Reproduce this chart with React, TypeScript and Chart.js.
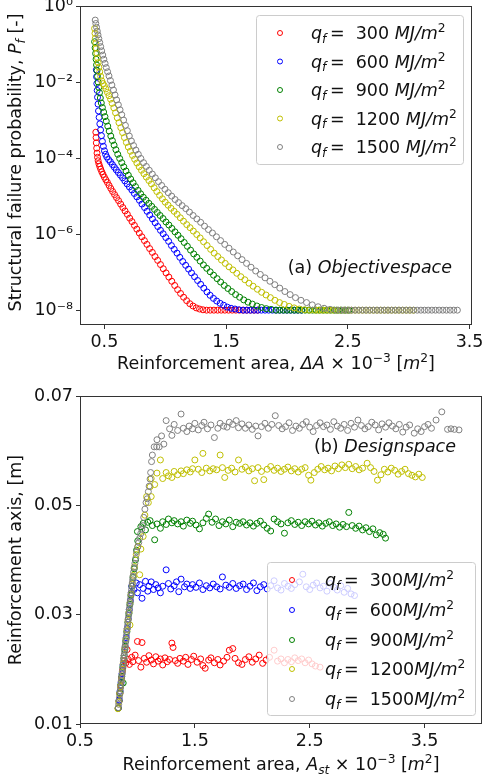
import React, { useEffect, useRef } from "react";
import { Chart, registerables } from "chart.js";

Chart.register(...registerables);

const FONT = '"DejaVu Sans", sans-serif';
const TEXT = "#111111";

// ---------- shared series ----------
const heatLoads = [300, 600, 900, 1200, 1500];
const seriesColors = ["#ff0000", "#0000ff", "#008000", "#bfbf00", "#808080"];

// ---------- (a) Objective space ----------
const topXTicks = [0.5, 1.5, 2.5, 3.5];
const topXTickLabels = ["0.5", "1.5", "2.5", "3.5"];
const topYTicks = [1e-8, 1e-6, 1e-4, 1e-2, 1];
const topYTickLabels = ["10\u207B\u2078", "10\u207B\u2076", "10\u207B\u2074", "10\u207B\u00B2", "10\u2070"];
const PF_FLOOR = 1e-8;

// Pareto fronts: [ΔA ×10^-3 m², log10(Pf)]
const front300 = [[0.430,-3.32],[0.432,-3.46],[0.434,-3.60],[0.437,-3.74],[0.440,-3.87],[0.444,-3.98],[0.449,-4.07],[0.455,-4.15],[0.462,-4.22],[0.470,-4.29],[0.479,-4.36],[0.489,-4.43],[0.500,-4.50],[0.512,-4.57],[0.525,-4.64],[0.539,-4.72],[0.553,-4.80],[0.568,-4.88],[0.584,-4.96],[0.600,-5.04],[0.617,-5.12],[0.634,-5.21],[0.652,-5.30],[0.670,-5.39],[0.689,-5.48],[0.708,-5.58],[0.727,-5.67],[0.747,-5.77],[0.767,-5.87],[0.787,-5.97],[0.808,-6.07],[0.829,-6.17],[0.850,-6.27],[0.872,-6.38],[0.894,-6.48],[0.916,-6.59],[0.938,-6.69],[0.961,-6.80],[0.984,-6.91],[1.007,-7.02],[1.030,-7.13],[1.054,-7.24],[1.078,-7.35],[1.102,-7.46],[1.126,-7.56],[1.151,-7.66],[1.176,-7.75],[1.202,-7.83],[1.228,-7.89],[1.255,-7.94],[1.282,-7.97],[1.310,-7.99]];
const front600 = [[0.434,-1.68],[0.436,-1.86],[0.438,-2.04],[0.441,-2.22],[0.444,-2.40],[0.448,-2.58],[0.452,-2.76],[0.457,-2.93],[0.463,-3.10],[0.469,-3.26],[0.476,-3.41],[0.484,-3.56],[0.492,-3.69],[0.501,-3.81],[0.510,-3.90],[0.520,-3.97],[0.535,-4.04],[0.550,-4.10],[0.566,-4.17],[0.582,-4.24],[0.598,-4.31],[0.615,-4.38],[0.632,-4.45],[0.650,-4.52],[0.668,-4.60],[0.687,-4.68],[0.706,-4.76],[0.726,-4.84],[0.746,-4.93],[0.767,-5.02],[0.788,-5.11],[0.809,-5.21],[0.830,-5.30],[0.851,-5.40],[0.873,-5.50],[0.895,-5.60],[0.917,-5.70],[0.939,-5.80],[0.961,-5.90],[0.983,-5.99],[1.005,-6.09],[1.028,-6.19],[1.051,-6.30],[1.074,-6.40],[1.097,-6.50],[1.120,-6.61],[1.144,-6.72],[1.168,-6.82],[1.192,-6.92],[1.216,-7.02],[1.241,-7.12],[1.266,-7.22],[1.291,-7.32],[1.317,-7.42],[1.343,-7.52],[1.369,-7.61],[1.396,-7.69],[1.423,-7.76],[1.451,-7.82],[1.480,-7.87],[1.510,-7.92],[1.541,-7.95],[1.573,-7.97],[1.606,-7.99],[1.640,-8.00]];
const front900 = [[0.420,-0.94],[0.424,-1.10],[0.428,-1.25],[0.432,-1.40],[0.436,-1.55],[0.440,-1.70],[0.444,-1.85],[0.449,-2.00],[0.454,-2.14],[0.460,-2.28],[0.467,-2.42],[0.475,-2.55],[0.484,-2.67],[0.494,-2.79],[0.505,-2.91],[0.516,-3.03],[0.528,-3.16],[0.540,-3.29],[0.553,-3.42],[0.566,-3.54],[0.580,-3.66],[0.595,-3.78],[0.610,-3.90],[0.626,-4.01],[0.643,-4.12],[0.660,-4.23],[0.678,-4.34],[0.697,-4.45],[0.716,-4.55],[0.736,-4.65],[0.756,-4.75],[0.777,-4.85],[0.798,-4.94],[0.820,-5.03],[0.843,-5.11],[0.866,-5.19],[0.889,-5.27],[0.912,-5.35],[0.935,-5.43],[0.958,-5.51],[0.982,-5.59],[1.006,-5.68],[1.030,-5.76],[1.055,-5.85],[1.080,-5.94],[1.105,-6.03],[1.130,-6.12],[1.156,-6.22],[1.182,-6.32],[1.208,-6.42],[1.234,-6.52],[1.260,-6.61],[1.287,-6.71],[1.314,-6.81],[1.341,-6.90],[1.369,-6.99],[1.397,-7.08],[1.426,-7.17],[1.455,-7.26],[1.485,-7.35],[1.515,-7.43],[1.546,-7.51],[1.578,-7.59],[1.611,-7.66],[1.645,-7.73],[1.680,-7.79],[1.716,-7.84],[1.753,-7.89],[1.791,-7.93],[1.830,-7.96],[1.870,-7.98],[1.910,-8.00]];
const front1200 = [[0.420,-0.59],[0.423,-0.72],[0.426,-0.85],[0.430,-0.98],[0.434,-1.11],[0.439,-1.24],[0.444,-1.37],[0.449,-1.49],[0.455,-1.61],[0.462,-1.73],[0.470,-1.85],[0.479,-1.97],[0.489,-2.04],[0.500,-2.10],[0.512,-2.18],[0.525,-2.27],[0.538,-2.36],[0.551,-2.45],[0.564,-2.56],[0.578,-2.68],[0.592,-2.81],[0.606,-2.94],[0.620,-3.07],[0.635,-3.20],[0.650,-3.33],[0.665,-3.46],[0.681,-3.59],[0.697,-3.71],[0.714,-3.82],[0.731,-3.93],[0.749,-4.03],[0.767,-4.13],[0.786,-4.23],[0.805,-4.32],[0.825,-4.41],[0.845,-4.50],[0.866,-4.59],[0.887,-4.68],[0.909,-4.78],[0.931,-4.88],[0.954,-4.98],[0.977,-5.07],[1.000,-5.16],[1.024,-5.24],[1.048,-5.32],[1.073,-5.40],[1.098,-5.48],[1.124,-5.57],[1.150,-5.66],[1.177,-5.75],[1.204,-5.83],[1.231,-5.92],[1.259,-6.01],[1.287,-6.10],[1.315,-6.20],[1.344,-6.30],[1.373,-6.40],[1.402,-6.50],[1.432,-6.59],[1.462,-6.68],[1.493,-6.77],[1.524,-6.86],[1.556,-6.94],[1.588,-7.03],[1.621,-7.12],[1.654,-7.20],[1.688,-7.29],[1.722,-7.37],[1.757,-7.45],[1.792,-7.53],[1.828,-7.60],[1.864,-7.67],[1.901,-7.74],[1.939,-7.80],[1.978,-7.85],[2.018,-7.90],[2.059,-7.94],[2.101,-7.97],[2.144,-7.99],[2.188,-8.00]];
const front1500 = [[0.425,-0.37],[0.430,-0.46],[0.436,-0.56],[0.442,-0.66],[0.448,-0.76],[0.455,-0.86],[0.462,-0.96],[0.470,-1.07],[0.478,-1.18],[0.487,-1.29],[0.496,-1.40],[0.506,-1.51],[0.516,-1.62],[0.527,-1.73],[0.538,-1.84],[0.550,-1.96],[0.562,-2.08],[0.575,-2.21],[0.588,-2.34],[0.601,-2.47],[0.615,-2.60],[0.629,-2.73],[0.643,-2.86],[0.658,-3.00],[0.673,-3.14],[0.689,-3.28],[0.705,-3.42],[0.722,-3.55],[0.740,-3.67],[0.759,-3.79],[0.779,-3.90],[0.800,-4.01],[0.822,-4.12],[0.845,-4.22],[0.869,-4.32],[0.894,-4.42],[0.919,-4.52],[0.945,-4.62],[0.971,-4.72],[0.998,-4.82],[1.025,-4.91],[1.053,-5.00],[1.081,-5.09],[1.110,-5.17],[1.139,-5.25],[1.169,-5.33],[1.199,-5.42],[1.229,-5.51],[1.260,-5.60],[1.291,-5.69],[1.323,-5.79],[1.355,-5.88],[1.388,-5.97],[1.421,-6.07],[1.455,-6.17],[1.489,-6.27],[1.524,-6.37],[1.559,-6.47],[1.595,-6.57],[1.631,-6.67],[1.668,-6.77],[1.705,-6.87],[1.743,-6.97],[1.781,-7.06],[1.820,-7.15],[1.860,-7.24],[1.900,-7.33],[1.941,-7.42],[1.983,-7.51],[2.026,-7.59],[2.070,-7.67],[2.115,-7.74],[2.161,-7.80],[2.208,-7.86],[2.256,-7.91],[2.305,-7.95],[2.355,-7.98],[2.406,-8.00]];

// ΔA values of the solutions that sit on the Pf = 1e-8 floor
const plateau300 = [1.34,1.37,1.40,1.43,1.46,1.49,1.52,1.55,1.58,1.61,1.64,1.67,1.70,1.73,1.76];
const plateau600 = [1.67,1.70,1.73,1.76,1.79,1.82,1.85,1.88,1.91,1.94,1.97,2.00,2.03,2.06,2.09,2.12];
const plateau900 = [1.94,1.97,2.00,2.03,2.06,2.09,2.12,2.15,2.18,2.21,2.24,2.27,2.30,2.33,2.36,2.39,2.42,2.45,2.48,2.51];
const plateau1200 = [2.23,2.26,2.29,2.32,2.35,2.38,2.41,2.44,2.47,2.50,2.53,2.56,2.59,2.62,2.65,2.68,2.71,2.74,2.77,2.80,2.83,2.86,2.89,2.92,2.95,2.98,3.01,3.04];
const plateau1500 = [2.44,2.47,2.50,2.53,2.56,2.59,2.62,2.65,2.68,2.71,2.74,2.77,2.80,2.83,2.86,2.89,2.92,2.95,2.98,3.01,3.04,3.07,3.10,3.13,3.16,3.19,3.22,3.25,3.28,3.31,3.34,3.37,3.40];

const topFronts = [front300, front600, front900, front1200, front1500];
const topPlateaus = [plateau300, plateau600, plateau900, plateau1200, plateau1500];

// ---------- (b) Design space ----------
const botXTicks = [0.5, 1.5, 2.5, 3.5];
const botXTickLabels = ["0.5", "1.5", "2.5", "3.5"];
const botYTicks = [0.01, 0.03, 0.05, 0.07];
const botYTickLabels = ["0.01", "0.03", "0.05", "0.07"];

// [A_st ×10^-3 m², reinforcement axis m]
const design300 = [[0.833,0.0129],[0.840,0.0142],[0.847,0.0156],[0.855,0.0170],[0.862,0.0184],[0.870,0.0198],[0.878,0.0210],[0.886,0.0216],
[0.90,0.0212],[0.91,0.0236],[0.92,0.0218],[0.93,0.0209],[0.95,0.0222],[0.96,0.0214],[0.98,0.0226],[1.00,0.0251],[1.01,0.0216],[1.03,0.0204],[1.04,0.0249],[1.06,0.0220],[1.08,0.0213],[1.10,0.0225],[1.12,0.0217],[1.14,0.0210],[1.16,0.0223],[1.18,0.0215],[1.20,0.0219],[1.22,0.0208],[1.24,0.0221],[1.26,0.0214],[1.28,0.0218],[1.30,0.0248],[1.31,0.0240],[1.33,0.0216],[1.35,0.0211],[1.37,0.0220],[1.40,0.0215],[1.42,0.0222],[1.44,0.0209],[1.47,0.0218],[1.49,0.0224],[1.52,0.0213],[1.55,0.0219],[1.57,0.0207],[1.59,0.0202],[1.62,0.0217],[1.64,0.0221],[1.67,0.0212],[1.70,0.0218],[1.72,0.0208],[1.75,0.0215],[1.78,0.0222],[1.80,0.0235],[1.83,0.0238],[1.85,0.0220],[1.88,0.0212],[1.91,0.0209],[1.94,0.0218],[1.97,0.0223],[2.00,0.0213],[2.03,0.0219],[2.06,0.0226],[2.09,0.0211],[2.12,0.0217],[2.15,0.0222],[2.19,0.0235],[2.22,0.0215],[2.25,0.0219],[2.28,0.0212],[2.31,0.0218],[2.34,0.0214],[2.37,0.0221],[2.40,0.0216],[2.43,0.0219],[2.46,0.0212],[2.49,0.0217],[2.52,0.0210],[2.55,0.0206],[2.59,0.0204]];
const design600 = [[0.833,0.0129],[0.841,0.0144],[0.849,0.0160],[0.858,0.0176],[0.866,0.0192],[0.875,0.0208],[0.884,0.0225],[0.893,0.0241],[0.902,0.0258],[0.911,0.0275],[0.920,0.0292],[0.929,0.0309],[0.938,0.0325],[0.946,0.0340],
[0.95,0.0352],[0.97,0.0346],[0.99,0.0358],[1.00,0.0340],[1.02,0.0355],[1.04,0.0330],[1.05,0.0348],[1.07,0.0361],[1.09,0.0343],[1.10,0.0352],[1.12,0.0360],[1.14,0.0346],[1.16,0.0355],[1.18,0.0349],[1.20,0.0340],[1.22,0.0352],[1.25,0.0382],[1.27,0.0357],[1.29,0.0347],[1.32,0.0353],[1.34,0.0360],[1.36,0.0342],[1.38,0.0365],[1.41,0.0351],[1.43,0.0356],[1.46,0.0348],[1.48,0.0355],[1.51,0.0350],[1.54,0.0358],[1.57,0.0346],[1.60,0.0353],[1.63,0.0349],[1.66,0.0356],[1.69,0.0351],[1.72,0.0347],[1.74,0.0369],[1.77,0.0354],[1.80,0.0350],[1.83,0.0357],[1.86,0.0348],[1.89,0.0353],[1.92,0.0356],[1.95,0.0346],[1.98,0.0352],[2.01,0.0358],[2.04,0.0344],[2.07,0.0351],[2.10,0.0355],[2.13,0.0347],[2.16,0.0353],[2.19,0.0362],[2.22,0.0349],[2.25,0.0345],[2.28,0.0357],[2.31,0.0352],[2.34,0.0348],[2.37,0.0355],[2.41,0.0360],[2.44,0.0374],[2.47,0.0351],[2.50,0.0346],[2.53,0.0354],[2.56,0.0358],[2.59,0.0349],[2.62,0.0352],[2.65,0.0343],[2.68,0.0357],[2.71,0.0350],[2.74,0.0345],[2.77,0.0353],[2.80,0.0341],[2.83,0.0348],[2.86,0.0338],[2.89,0.0335]];
const design900 = [[0.833,0.0129],[0.840,0.0142],[0.848,0.0157],[0.856,0.0172],[0.864,0.0187],[0.876,0.0175],[0.873,0.0204],[0.882,0.0220],[0.890,0.0236],[0.899,0.0252],[0.908,0.0269],[0.917,0.0286],[0.926,0.0302],[0.935,0.0319],[0.944,0.0336],[0.953,0.0352],[0.962,0.0368],[0.972,0.0384],[0.983,0.0400],[0.993,0.0418],[1.003,0.0435],
[1.00,0.0452],[1.03,0.0461],[1.05,0.0467],[1.07,0.0455],[1.09,0.0469],[1.11,0.0472],[1.13,0.0463],[1.15,0.0437],[1.17,0.0466],[1.20,0.0458],[1.22,0.0470],[1.25,0.0465],[1.27,0.0475],[1.30,0.0468],[1.32,0.0472],[1.35,0.0466],[1.38,0.0470],[1.40,0.0462],[1.43,0.0473],[1.46,0.0467],[1.48,0.0471],[1.51,0.0464],[1.54,0.0457],[1.57,0.0468],[1.60,0.0476],[1.62,0.0484],[1.65,0.0469],[1.68,0.0475],[1.71,0.0463],[1.74,0.0470],[1.77,0.0466],[1.80,0.0473],[1.83,0.0461],[1.86,0.0469],[1.89,0.0467],[1.92,0.0470],[1.95,0.0464],[1.98,0.0468],[2.01,0.0462],[2.04,0.0467],[2.07,0.0471],[2.10,0.0464],[2.13,0.0458],[2.16,0.0453],[2.19,0.0475],[2.22,0.0470],[2.25,0.0466],[2.28,0.0449],[2.31,0.0468],[2.34,0.0472],[2.37,0.0465],[2.40,0.0469],[2.43,0.0463],[2.46,0.0470],[2.49,0.0466],[2.52,0.0471],[2.55,0.0464],[2.58,0.0468],[2.61,0.0462],[2.64,0.0467],[2.67,0.0470],[2.70,0.0463],[2.73,0.0466],[2.76,0.0460],[2.79,0.0465],[2.82,0.0461],[2.84,0.0487],[2.87,0.0463],[2.90,0.0458],[2.93,0.0462],[2.96,0.0455],[2.99,0.0459],[3.02,0.0452],[3.05,0.0457],[3.08,0.0446],[3.11,0.0450],[3.14,0.0447],[3.16,0.0440]];
const design1200 = [[0.830,0.0128],[0.838,0.0140],[0.846,0.0155],[0.853,0.0168],[0.860,0.0180],[0.868,0.0195],[0.876,0.0210],[0.884,0.0225],[0.892,0.0240],[0.900,0.0255],[0.909,0.0272],[0.918,0.0290],[0.935,0.0281],[0.927,0.0305],[0.936,0.0322],[0.945,0.0338],[0.955,0.0356],[0.965,0.0372],[0.975,0.0388],[1.020,0.0373],[0.990,0.0410],[1.005,0.0425],[1.030,0.0420],[1.050,0.0443],[1.065,0.0482],[1.080,0.0516],[1.095,0.0505],[1.110,0.0534],[1.120,0.0516],
[1.12,0.0549],[1.15,0.0538],[1.17,0.0559],[1.20,0.0583],[1.22,0.0549],[1.25,0.0560],[1.27,0.0554],[1.30,0.0551],[1.32,0.0562],[1.35,0.0556],[1.38,0.0563],[1.40,0.0558],[1.43,0.0565],[1.46,0.0561],[1.48,0.0567],[1.50,0.0583],[1.53,0.0566],[1.56,0.0560],[1.57,0.0595],[1.60,0.0568],[1.63,0.0563],[1.66,0.0567],[1.69,0.0565],[1.72,0.0592],[1.74,0.0569],[1.76,0.0551],[1.79,0.0564],[1.82,0.0568],[1.85,0.0561],[1.88,0.0583],[1.91,0.0566],[1.94,0.0570],[1.97,0.0563],[2.00,0.0567],[2.02,0.0545],[2.05,0.0569],[2.08,0.0562],[2.10,0.0547],[2.13,0.0566],[2.16,0.0571],[2.19,0.0564],[2.22,0.0568],[2.25,0.0562],[2.28,0.0566],[2.31,0.0570],[2.34,0.0563],[2.37,0.0567],[2.40,0.0561],[2.43,0.0566],[2.46,0.0569],[2.49,0.0555],[2.51,0.0546],[2.54,0.0560],[2.57,0.0566],[2.60,0.0571],[2.63,0.0565],[2.66,0.0568],[2.69,0.0563],[2.72,0.0572],[2.75,0.0567],[2.78,0.0574],[2.81,0.0569],[2.84,0.0575],[2.87,0.0567],[2.90,0.0571],[2.93,0.0565],[2.96,0.0568],[3.00,0.0577],[3.03,0.0569],[3.06,0.0562],[3.09,0.0546],[3.12,0.0556],[3.15,0.0566],[3.18,0.0561],[3.21,0.0568],[3.24,0.0564],[3.27,0.0557],[3.30,0.0562],[3.33,0.0566],[3.36,0.0558],[3.39,0.0555],[3.42,0.0552],[3.45,0.0557],[3.48,0.0551]];
const design1500 = [[0.833,0.0130],[0.837,0.0136],[0.840,0.0142],[0.843,0.0148],[0.846,0.0154],[0.850,0.0160],[0.853,0.0166],[0.856,0.0172],[0.859,0.0178],[0.862,0.0184],[0.865,0.0190],[0.869,0.0196],[0.872,0.0202],[0.875,0.0208],[0.878,0.0214],[0.881,0.0220],[0.885,0.0226],[0.888,0.0232],[0.891,0.0238],[0.894,0.0244],[0.897,0.0250],[0.901,0.0256],[0.904,0.0262],[0.907,0.0268],[0.910,0.0274],[0.914,0.0280],[0.917,0.0286],[0.920,0.0292],[0.923,0.0298],[0.926,0.0304],[0.929,0.0310],[0.933,0.0316],[0.936,0.0322],[0.939,0.0328],[0.942,0.0334],[0.946,0.0340],[0.949,0.0346],[0.952,0.0352],[0.955,0.0358],[0.958,0.0364],[0.961,0.0370],[0.967,0.0378],[0.972,0.0386],[0.978,0.0394],[0.985,0.0403],[0.993,0.0415],[1.002,0.0424],[1.012,0.0432],[1.020,0.0440],[1.028,0.0448],[1.037,0.0456],[1.045,0.0463],[1.055,0.0478],[1.065,0.0493],[1.075,0.0505],[1.085,0.0512],[1.095,0.0525],[1.102,0.0535],[1.110,0.0548],[1.115,0.0560],[1.123,0.0580],[1.130,0.0592],[1.146,0.0607],[1.168,0.0607],[1.190,0.0607],
[1.17,0.0620],[1.21,0.0627],[1.23,0.0612],[1.25,0.0655],[1.28,0.0640],[1.30,0.0628],[1.32,0.0648],[1.35,0.0637],[1.38,0.0667],[1.40,0.0641],[1.43,0.0635],[1.45,0.0645],[1.48,0.0640],[1.50,0.0650],[1.53,0.0638],[1.56,0.0646],[1.58,0.0652],[1.61,0.0640],[1.64,0.0647],[1.67,0.0624],[1.70,0.0641],[1.72,0.0650],[1.75,0.0645],[1.78,0.0643],[1.80,0.0652],[1.83,0.0648],[1.86,0.0655],[1.88,0.0642],[1.91,0.0649],[1.94,0.0641],[1.97,0.0647],[2.00,0.0639],[2.03,0.0645],[2.05,0.0627],[2.08,0.0644],[2.11,0.0650],[2.14,0.0641],[2.17,0.0648],[2.20,0.0664],[2.23,0.0646],[2.26,0.0640],[2.29,0.0644],[2.32,0.0651],[2.35,0.0637],[2.38,0.0645],[2.41,0.0641],[2.44,0.0648],[2.47,0.0653],[2.50,0.0643],[2.53,0.0635],[2.56,0.0646],[2.59,0.0651],[2.62,0.0644],[2.65,0.0647],[2.68,0.0639],[2.71,0.0653],[2.74,0.0645],[2.77,0.0641],[2.80,0.0648],[2.83,0.0637],[2.86,0.0650],[2.89,0.0643],[2.92,0.0656],[2.95,0.0646],[2.98,0.0640],[3.01,0.0644],[3.04,0.0652],[3.07,0.0647],[3.10,0.0638],[3.13,0.0649],[3.16,0.0643],[3.19,0.0651],[3.22,0.0645],[3.25,0.0640],[3.28,0.0648],[3.31,0.0634],[3.34,0.0643],[3.37,0.0647],[3.41,0.0632],[3.44,0.0640],[3.47,0.0635],[3.50,0.0644],[3.53,0.0648],[3.56,0.0641],[3.60,0.0656],[3.65,0.0671],[3.70,0.0639],[3.73,0.0640],[3.76,0.0639],[3.80,0.0638]];

const designSets = [design300, design600, design900, design1200, design1500];

// ---------- text ----------
type Seg = { t: string; it?: boolean; sub?: boolean; sup?: boolean };
const topXTitle: Seg[] = [{ t: "Reinforcement area, " }, { t: "\u0394A", it: true }, { t: " \u00D7 10" }, { t: "\u22123", sup: true }, { t: " [" }, { t: "m", it: true }, { t: "2", sup: true }, { t: "]" }];
const topYTitle: Seg[] = [{ t: "Structural failure probability, " }, { t: "P", it: true }, { t: "f", it: true, sub: true }, { t: " [-]" }];
const botXTitle: Seg[] = [{ t: "Reinforcement area, " }, { t: "A", it: true }, { t: "st", it: true, sub: true }, { t: " \u00D7 10" }, { t: "\u22123", sup: true }, { t: " [" }, { t: "m", it: true }, { t: "2", sup: true }, { t: "]" }];
const botYTitle: Seg[] = [{ t: "Reinforcement axis, [m]" }];
const topNote: Seg[] = [{ t: "(a) " }, { t: "Objectivespace", it: true }];
const botNote: Seg[] = [{ t: "(b) " }, { t: "Designspace", it: true }];

const legendLabel = (q: number, gap: string): Seg[] => [
  { t: "q", it: true }, { t: "f", it: true, sub: true }, { t: "\u2009=  " }, { t: String(q) + gap }, { t: "MJ/m", it: true }, { t: "2", sup: true },
];

// ---------- drawing helpers ----------
const FS = 17.5;
function segFont(s: Seg, size: number) {
  const sz = s.sub || s.sup ? size * 0.7 : size;
  return `${s.it ? "italic " : ""}${sz}px ${FONT}`;
}
function richWidth(ctx: any, segs: Seg[], size: number) {
  let w = 0;
  for (const s of segs) { ctx.font = segFont(s, size); w += ctx.measureText(s.t).width; }
  return w;
}
function drawRich(ctx: any, segs: Seg[], x: number, y: number, size: number, align: string) {
  const w = richWidth(ctx, segs, size);
  let cx = align === "left" ? x : align === "center" ? x - w / 2 : x - w;
  ctx.textAlign = "left";
  ctx.textBaseline = "alphabetic";
  ctx.fillStyle = TEXT;
  for (const s of segs) {
    ctx.font = segFont(s, size);
    const dy = s.sup ? -size * 0.4 : s.sub ? size * 0.22 : 0;
    ctx.fillText(s.t, cx, y + dy);
    cx += ctx.measureText(s.t).width;
  }
}
function roundRectPath(ctx: any, x: number, y: number, w: number, h: number, r: number) {
  ctx.beginPath();
  ctx.moveTo(x + r, y);
  ctx.lineTo(x + w - r, y);
  ctx.arcTo(x + w, y, x + w, y + r, r);
  ctx.lineTo(x + w, y + h - r);
  ctx.arcTo(x + w, y + h, x + w - r, y + h, r);
  ctx.lineTo(x + r, y + h);
  ctx.arcTo(x, y + h, x, y + h - r, r);
  ctx.lineTo(x, y + r);
  ctx.arcTo(x, y, x + r, y, r);
  ctx.closePath();
}

function decorPlugin(cfg: any) {
  return {
    id: "decor",
    afterDatasetsDraw(chart: any) {
      const { ctx, chartArea: a } = chart;
      ctx.save();
      ctx.strokeStyle = "#333333";
      ctx.lineWidth = 1;
      ctx.strokeRect(Math.round(a.left) + 0.5, Math.round(a.top) + 0.5, Math.round(a.right - a.left) - 1, Math.round(a.bottom - a.top) - 1);
      ctx.restore();
    },
    afterDraw(chart: any) {
      const { ctx, chartArea: a } = chart;
      ctx.save();
      // axis titles
      drawRich(ctx, cfg.xTitle, (a.left + a.right) / 2, cfg.xTitleBaseline, FS, "center");
      ctx.save();
      ctx.translate(cfg.yTitleBaselineX, (a.top + a.bottom) / 2 + cfg.yTitleShift);
      ctx.rotate(-Math.PI / 2);
      drawRich(ctx, cfg.yTitle, 0, 0, FS, "center");
      ctx.restore();
      // annotation
      drawRich(ctx, cfg.note, cfg.noteRight, cfg.noteBaseline, FS, "right");
      // legend
      const L = cfg.legend;
      roundRectPath(ctx, L.left + 0.5, L.top + 0.5, L.right - L.left, L.bottom - L.top, 3);
      ctx.fillStyle = "rgba(255,255,255,0.8)";
      ctx.fill();
      ctx.strokeStyle = "#cccccc";
      ctx.lineWidth = 1;
      ctx.stroke();
      heatLoads.forEach((q, i) => {
        const yy = L.rows[i];
        ctx.beginPath();
        ctx.arc(L.markerX, yy, 2.5, 0, Math.PI * 2);
        ctx.strokeStyle = seriesColors[i];
        ctx.lineWidth = 1;
        ctx.stroke();
        drawRich(ctx, legendLabel(q, L.gap), L.textX, yy + 6, FS, "left");
      });
      ctx.restore();
    },
  };
}

const tickFont = { family: FONT, size: FS };
const gridCfg = { display: true, drawOnChartArea: false, drawTicks: true, tickLength: 4, color: "#333333", lineWidth: 1 };

function pointStyle(i: number) {
  return {
    borderColor: seriesColors[i],
    backgroundColor: "rgba(0,0,0,0)",
    pointRadius: 3,
    pointHoverRadius: 3,
    pointBorderWidth: 1,
    showLine: false,
    order: heatLoads.length - 1 - i,
  };
}

function topConfig(): any {
  const datasets = heatLoads.map((q, i) => ({
    label: `q_f = ${q}`,
    data: [
      ...topFronts[i].map(([x, lp]) => ({ x, y: Math.pow(10, lp) })),
      ...topPlateaus[i].map((x) => ({ x, y: PF_FLOOR })),
    ],
    ...pointStyle(i),
  }));
  return {
    type: "scatter",
    data: { datasets },
    options: {
      responsive: false,
      animation: false,
      devicePixelRatio: 1,
      events: [],
      layout: { padding: { left: 0, right: 14, top: 6, bottom: 0 } },
      plugins: { legend: { display: false }, tooltip: { enabled: false } },
      scales: {
        x: {
          type: "linear", min: 0.3, max: 3.52,
          afterBuildTicks: (s: any) => { s.ticks = topXTicks.map((v) => ({ value: v })); },
          afterFit: (s: any) => { s.height = 55; s.paddingLeft = 0; s.paddingRight = 0; },
          ticks: { autoSkip: false, maxRotation: 0, minRotation: 0, padding: 3, color: TEXT, font: tickFont,
            callback: (v: any) => topXTickLabels[topXTicks.findIndex((t) => Math.abs(t - v) < 1e-9)] },
          grid: gridCfg, border: { display: false },
        },
        y: {
          type: "logarithmic", min: Math.pow(10, -8.39), max: 1,
          afterBuildTicks: (s: any) => { s.ticks = topYTicks.map((v) => ({ value: v })); },
          afterFit: (s: any) => { s.width = 80; s.paddingTop = 0; s.paddingBottom = 0; },
          ticks: { autoSkip: false, padding: 3, color: TEXT, font: tickFont,
            callback: (v: any) => topYTickLabels[topYTicks.findIndex((t) => Math.abs(Math.log10(t) - Math.log10(v)) < 1e-6)] },
          grid: gridCfg, border: { display: false },
        },
      },
    },
    plugins: [decorPlugin({
      xTitle: topXTitle, xTitleBaseline: 369,
      yTitle: topYTitle, yTitleBaselineX: 21, yTitleShift: -3,
      note: topNote, noteRight: 452, noteBaseline: 273,
      legend: { left: 256, top: 15, right: 463, bottom: 164, rows: [33, 61.5, 90, 118.5, 147], markerX: 280, textX: 311, gap: " " },
    })],
  };
}

function botConfig(): any {
  const datasets = heatLoads.map((q, i) => ({
    label: `q_f = ${q}`,
    data: designSets[i].map(([x, y]) => ({ x, y })),
    ...pointStyle(i),
  }));
  return {
    type: "scatter",
    data: { datasets },
    options: {
      responsive: false,
      animation: false,
      devicePixelRatio: 1,
      events: [],
      layout: { padding: { left: 0, right: 2, top: 16, bottom: 0 } },
      plugins: { legend: { display: false }, tooltip: { enabled: false } },
      scales: {
        x: {
          type: "linear", min: 0.5, max: 4.0,
          afterBuildTicks: (s: any) => { s.ticks = botXTicks.map((v) => ({ value: v })); },
          afterFit: (s: any) => { s.height = 58; s.paddingLeft = 0; s.paddingRight = 0; },
          ticks: { autoSkip: false, maxRotation: 0, minRotation: 0, padding: 3, color: TEXT, font: tickFont,
            callback: (v: any) => botXTickLabels[botXTicks.findIndex((t) => Math.abs(t - v) < 1e-9)] },
          grid: gridCfg, border: { display: false },
        },
        y: {
          type: "linear", min: 0.01, max: 0.07,
          afterBuildTicks: (s: any) => { s.ticks = botYTicks.map((v) => ({ value: v })); },
          afterFit: (s: any) => { s.width = 80; s.paddingTop = 0; s.paddingBottom = 0; },
          ticks: { autoSkip: false, padding: 3, color: TEXT, font: tickFont,
            callback: (v: any) => botYTickLabels[botYTicks.findIndex((t) => Math.abs(t - v) < 1e-9)] },
          grid: gridCfg, border: { display: false },
        },
      },
    },
    plugins: [decorPlugin({
      xTitle: botXTitle, xTitleBaseline: 390,
      yTitle: botYTitle, yTitleBaselineX: 21, yTitleShift: 0,
      note: botNote, noteRight: 456, noteBaseline: 72,
      legend: { left: 267, top: 182, right: 475, bottom: 335, rows: [200, 230, 260, 289, 319], markerX: 292, textX: 325, gap: "" },
    })],
  };
}

function ChartCanvas({ build, width, height, top }: any) {
  const ref = useRef<HTMLCanvasElement>(null);
  useEffect(() => {
    const chart = new Chart(ref.current as HTMLCanvasElement, build());
    return () => chart.destroy();
  }, []);
  return (
    <canvas
      ref={ref}
      width={width}
      height={height}
      style={{ position: "absolute", left: 0, top, width, height, display: "block" }}
    />
  );
}

export default function App() {
  return (
    <div style={{ position: "fixed", left: 0, top: 0, width: 486, height: 782, background: "#ffffff", overflow: "hidden" }}>
      <ChartCanvas build={topConfig} width={486} height={380} top={0} />
      <ChartCanvas build={botConfig} width={486} height={402} top={380} />
    </div>
  );
}
